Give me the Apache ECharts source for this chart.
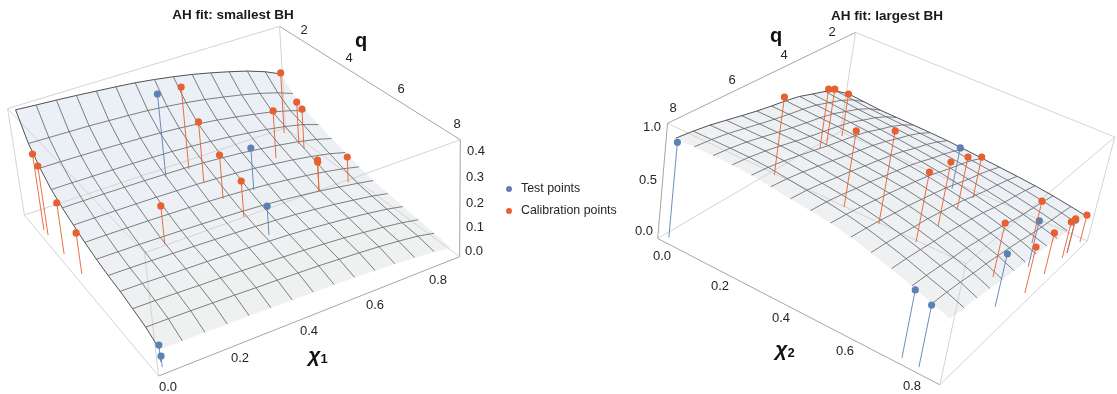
<!DOCTYPE html>
<html>
<head>
<meta charset="utf-8">
<style>html,body{margin:0;background:#fff}#main{width:1117px;height:394px}</style>
<script src="https://cdn.jsdelivr.net/npm/echarts@6/dist/echarts.min.js"></script>
</head>
<body>
<div id="main"></div>
<script>
// surface nodes shared by both fits
var chiNodes = [0, 0.065, 0.13, 0.195, 0.26, 0.325, 0.39, 0.455, 0.52, 0.585, 0.65, 0.715, 0.78, 0.845, 0.9];
var qNodes = [2, 2.5, 3, 3.5, 4, 4.5, 5, 5.5, 6, 6.5, 7, 7.5, 8];

// AH fit values in thousandths, one row per q node, one column per chi node
var surfaceSmallest = [
  [467, 461, 456, 450, 443, 436, 428, 417, 404, 389, 371, 351, 329, 301, 270],
  [365, 363, 361, 359, 355, 351, 346, 338, 328, 316, 301, 285, 266, 243, 218],
  [304, 303, 301, 299, 296, 293, 289, 283, 275, 265, 252, 238, 222, 201, 178],
  [258, 258, 257, 256, 255, 253, 251, 246, 240, 232, 222, 211, 197, 179, 156],
  [228, 228, 228, 227, 226, 224, 222, 218, 212, 205, 195, 184, 171, 154, 135],
  [204, 204, 204, 203, 202, 200, 198, 194, 189, 182, 172, 162, 149, 133, 115],
  [182, 182, 181, 180, 178, 176, 173, 169, 164, 157, 148, 138, 126, 111, 95],
  [164, 163, 162, 160, 158, 155, 152, 148, 143, 136, 127, 117, 105, 92, 80],
  [150, 149, 147, 145, 143, 140, 137, 133, 129, 123, 115, 106, 95, 83, 69],
  [140, 139, 136, 134, 132, 129, 126, 122, 118, 112, 104, 96, 86, 74, 60],
  [126, 125, 123, 120, 118, 115, 112, 108, 104, 99, 93, 85, 76, 65, 52],
  [110, 109, 107, 105, 103, 100, 98, 95, 92, 87, 82, 76, 68, 58, 44],
  [82, 80, 79, 78, 77, 75, 73, 71, 69, 66, 62, 57, 51, 44, 35]
];
var surfaceLargest = [
  [470, 456, 441, 438, 434, 430, 423, 410, 396, 382, 367, 350, 327, 298, 270],
  [570, 553, 535, 526, 517, 506, 494, 478, 459, 438, 416, 392, 362, 328, 292],
  [644, 625, 607, 595, 582, 567, 551, 532, 511, 485, 458, 428, 392, 353, 314],
  [691, 677, 662, 649, 633, 615, 596, 576, 553, 524, 494, 460, 420, 378, 337],
  [741, 729, 717, 705, 690, 670, 650, 628, 604, 572, 538, 500, 456, 407, 363],
  [772, 763, 754, 745, 732, 714, 695, 675, 652, 620, 586, 545, 497, 444, 388],
  [796, 790, 784, 777, 766, 750, 732, 713, 690, 659, 624, 582, 532, 476, 414],
  [823, 820, 815, 810, 800, 784, 766, 748, 726, 694, 658, 614, 563, 505, 439],
  [856, 854, 851, 847, 838, 822, 804, 785, 762, 730, 693, 648, 595, 533, 464],
  [891, 890, 889, 886, 876, 857, 835, 815, 792, 757, 716, 668, 612, 553, 490],
  [925, 925, 925, 922, 912, 892, 870, 850, 826, 790, 746, 696, 638, 580, 515],
  [949, 951, 952, 950, 940, 920, 898, 878, 852, 815, 770, 718, 658, 600, 540],
  [966, 968, 970, 968, 958, 938, 915, 895, 872, 835, 787, 735, 675, 615, 559]
];

// points as [chi, q, value]
var testSmallest = [
  [0.445, 2.23, 0.375], [0.632, 3.79, 0.188], [0.541, 5.44, 0.125],
  [0.012, 7.80, 0.068], [0.006, 7.94, 0.044]
];
var calibrationSmallest = [
  [0.896, 2.07, 0.281], [0.528, 2.22, 0.372], [0.526, 2.93, 0.275],
  [0.789, 2.92, 0.216], [0.896, 2.69, 0.195], [0.895, 2.91, 0.181],
  [0.529, 3.73, 0.196], [0.530, 4.58, 0.158], [0.791, 4.61, 0.138],
  [0.791, 4.61, 0.129], [0.892, 4.66, 0.112], [0.000, 2.66, 0.334],
  [0.000, 2.88, 0.302], [0.000, 3.71, 0.221], [0.002, 4.55, 0.175],
  [0.268, 4.54, 0.165]
];
var testLargest = [
  [0.000, 7.94, 0.918], [0.451, 2.18, 0.452], [0.788, 7.95, 0.638],
  [0.841, 7.96, 0.582], [0.865, 5.40, 0.530], [0.844, 3.70, 0.480],
  [0.899, 2.63, 0.353]
];
var calibrationLargest = [
  [0.000, 4.57, 0.821], [0.000, 2.87, 0.650], [0.000, 2.61, 0.610],
  [0.004, 2.03, 0.474], [0.264, 4.54, 0.791], [0.394, 4.56, 0.954],
  [0.529, 4.58, 0.720], [0.532, 3.72, 0.672], [0.528, 2.87, 0.570],
  [0.529, 2.17, 0.450], [0.793, 2.84, 0.448], [0.790, 4.54, 0.552],
  [0.898, 4.57, 0.469], [0.897, 3.69, 0.428], [0.900, 2.88, 0.383],
  [0.899, 2.63, 0.364], [0.903, 2.04, 0.294]
];

var chiTicks = ['0.0', '0.2', '0.4', '0.6', '0.8'];
var qTicks = ['2', '4', '6', '8'];
var zTicksSmallest = ['0.0', '0.1', '0.2', '0.3', '0.4'];
var zTicksLargest = ['0.0', '0.5', '1.0'];

// camera of each panel is fixed by where the 8 box corners land: [chi, q, z, x, y], chi q z in 0..1
var panels = [{
  chiRange: [-0.018, 0.918], qRange: [1.88, 8.12], zRange: [0, 0.47],
  surface: surfaceSmallest, test: testSmallest, calibration: calibrationSmallest,
  corners: [[0, 0, 1, 7, 108], [1, 0, 1, 280, 28], [1, 1, 1, 461, 140], [0, 1, 1, 144, 251],
    [0, 0, 0, 25, 217], [1, 0, 0, 285, 125], [1, 1, 0, 459, 258], [0, 1, 0, 159, 376]],
  // box edges which carry the axis labels are drawn darker
  axisEdges: [[[1, 1, 1], [1, 0, 1]], [[0, 1, 0], [1, 1, 0]], [[1, 1, 0], [1, 1, 1]]],
  surfaceColors: ['#ebeff6', '#eff1f1'],
  title: 'AH fit: smallest BH', titleAt: [233, 8],
  chiLabelAt: [[168, 387], [240, 358], [309, 331], [375, 305], [438, 280]],
  qLabelAt: [[304, 30], [349, 58], [401, 89], [457, 124]],
  zTicks: zTicksSmallest,
  zLabelAt: [[474, 251], [475, 227], [475, 203], [475, 177], [476, 151]],
  qNameAt: [361, 41], chiNameAt: [318, 356], chiIndex: '1'
}, {
  chiRange: [-0.018, 0.918], qRange: [1.88, 8.12], zRange: [0, 1.1],
  surface: surfaceLargest, test: testLargest, calibration: calibrationLargest,
  corners: [[0, 1, 1, 667, 124], [0, 0, 1, 855, 33], [1, 0, 1, 1115, 137], [1, 1, 1, 967, 262],
    [0, 1, 0, 658, 239], [0, 0, 0, 841, 130], [1, 0, 0, 1087, 242], [1, 1, 0, 939, 385]],
  axisEdges: [[[0, 1, 1], [0, 0, 1]], [[0, 1, 0], [1, 1, 0]], [[0, 1, 0], [0, 1, 1]]],
  surfaceColors: ['#ecf0f5', '#eef0f2'],
  title: 'AH fit: largest BH', titleAt: [887, 9],
  chiLabelAt: [[662, 256], [720, 286], [781, 318], [845, 351], [912, 386]],
  qLabelAt: [[832, 32], [784, 55], [732, 80], [673, 108]],
  zTicks: zTicksLargest,
  zLabelAt: [[644, 231], [648, 180], [652, 127]],
  qNameAt: [776, 36], chiNameAt: [785, 350], chiIndex: '2'
}];

var COLOR_TEST = '#5e81b5';
var COLOR_CAL = '#e8602f';
var FONT = '"Liberation Sans", Arial, sans-serif';

function solve(A, b) {
  var n = b.length, i, j, k;
  A = A.map(function (r, idx) { return r.concat([b[idx]]); });
  for (i = 0; i < n; i++) {
    var m = i;
    for (k = i + 1; k < n; k++) if (Math.abs(A[k][i]) > Math.abs(A[m][i])) m = k;
    var t = A[i]; A[i] = A[m]; A[m] = t;
    for (k = i + 1; k < n; k++) {
      var f = A[k][i] / A[i][i];
      for (j = i; j <= n; j++) A[k][j] -= f * A[i][j];
    }
  }
  var x = [];
  for (i = n - 1; i >= 0; i--) {
    var s = A[i][n];
    for (j = i + 1; j < n; j++) s -= A[i][j] * x[j];
    x[i] = s / A[i][i];
  }
  return x;
}

// least squares perspective matrix from the box corners
function cameraFrom(corners) {
  var M = [], r = [];
  corners.forEach(function (p) {
    var u = p[0], v = p[1], w = p[2], x = p[3] / 1000, y = p[4] / 1000;
    M.push([u, v, w, 1, 0, 0, 0, 0, -x * u, -x * v, -x * w]); r.push(x);
    M.push([0, 0, 0, 0, u, v, w, 1, -y * u, -y * v, -y * w]); r.push(y);
  });
  var N = [], g = [];
  for (var i = 0; i < 11; i++) {
    N.push([]); g.push(0);
    for (var j = 0; j < 11; j++) {
      var s = 0;
      for (var k = 0; k < M.length; k++) s += M[k][i] * M[k][j];
      N[i].push(s);
    }
    for (k = 0; k < M.length; k++) g[i] += M[k][i] * r[k];
  }
  return solve(N, g);
}

panels.forEach(function (p) { p.camera = cameraFrom(p.corners); });

function projectBox(p, u, v, w) {
  var c = p.camera, d = c[8] * u + c[9] * v + c[10] * w + 1;
  return [1000 * (c[0] * u + c[1] * v + c[2] * w + c[3]) / d, 1000 * (c[4] * u + c[5] * v + c[6] * w + c[7]) / d];
}

function project(p, chi, q, z) {
  return projectBox(p,
    (chi - p.chiRange[0]) / (p.chiRange[1] - p.chiRange[0]),
    (q - p.qRange[0]) / (p.qRange[1] - p.qRange[0]),
    (z - p.zRange[0]) / (p.zRange[1] - p.zRange[0]));
}

function nodePixel(api, p, i, j) {
  return api.coord(project(p, chiNodes[i], qNodes[j], p.surface[j][i] / 1000));
}

// hidden axes span the page, the projected points are plotted on them
function baseSeries(data, renderItem, z) {
  return {
    type: 'custom', coordinateSystem: 'cartesian2d', silent: true, clip: false,
    encode: { x: 0, y: 1 }, z: z, data: data, renderItem: renderItem, animation: false
  };
}

function surfaceSeries(p) {
  var data = [];
  for (var j = 0; j < qNodes.length - 1; j++) {
    for (var i = 0; i < chiNodes.length - 1; i++) data.push([i, j]);
  }
  return baseSeries(data, function (params, api) {
    var i = api.value(0), j = api.value(1);
    var fill = echarts.color.lerp(j / (qNodes.length - 2), p.surfaceColors);
    return {
      type: 'polygon',
      shape: { points: [nodePixel(api, p, i, j), nodePixel(api, p, i + 1, j), nodePixel(api, p, i + 1, j + 1), nodePixel(api, p, i, j + 1)] },
      style: { fill: fill, stroke: fill, lineWidth: 0.6 }
    };
  }, 1);
}

function boxSeries(p) {
  var edges = [
    [[0, 0, 0], [1, 0, 0]], [[1, 0, 0], [1, 1, 0]], [[0, 1, 0], [0, 0, 0]],
    [[0, 0, 1], [1, 0, 1]], [[1, 0, 1], [1, 1, 1]], [[1, 1, 1], [0, 1, 1]], [[0, 1, 1], [0, 0, 1]],
    [[0, 0, 0], [0, 0, 1]], [[1, 0, 0], [1, 0, 1]], [[0, 1, 0], [0, 1, 1]], [[1, 1, 0], [1, 1, 1]],
    [[0, 1, 0], [1, 1, 0]]
  ];
  var data = edges.map(function (e, idx) { return [idx, 0]; });
  return baseSeries(data, function (params, api) {
    var e = edges[api.value(0)];
    var axis = p.axisEdges.some(function (a) {
      return (String(a[0]) === String(e[0]) && String(a[1]) === String(e[1])) || (String(a[0]) === String(e[1]) && String(a[1]) === String(e[0]));
    });
    var a = api.coord(projectBox(p, e[0][0], e[0][1], e[0][2]));
    var b = api.coord(projectBox(p, e[1][0], e[1][1], e[1][2]));
    return {
      type: 'line',
      shape: { x1: a[0], y1: a[1], x2: b[0], y2: b[1] },
      style: { stroke: axis ? '#a6a6a6' : '#d4d4d4', lineWidth: 1 }
    };
  }, 2);
}

function meshSeries(p) {
  var data = [], i, j;
  // the last node of each direction is only the surface rim, it has no mesh line
  for (j = 0; j < qNodes.length - 1; j++) data.push([0, j]);
  for (i = 0; i < chiNodes.length - 1; i++) data.push([1, i]);
  return baseSeries(data, function (params, api) {
    var alongChi = api.value(0) === 0, k = api.value(1), pts = [], n;
    if (alongChi) {
      for (n = 0; n < chiNodes.length; n++) pts.push(nodePixel(api, p, n, k));
    } else {
      for (n = 0; n < qNodes.length; n++) pts.push(nodePixel(api, p, k, n));
    }
    return {
      type: 'polyline',
      shape: { points: pts },
      style: { fill: null, stroke: k === 0 ? '#404040' : '#5f5f5f', lineWidth: k === 0 ? 0.9 : 0.8 }
    };
  }, 3);
}

function pointSeries(p, name, data, color) {
  var s = baseSeries(data, function (params, api) {
    var chi = api.value(0), q = api.value(1), top = api.coord(project(p, chi, q, api.value(2)));
    var foot = api.coord(project(p, chi, q, 0));
    return {
      type: 'group',
      children: [{
        type: 'line',
        shape: { x1: top[0], y1: top[1], x2: foot[0], y2: foot[1] },
        style: { stroke: color, lineWidth: 1, opacity: 0.9 }
      }, {
        type: 'circle',
        shape: { cx: top[0], cy: top[1], r: 3.6 },
        style: { fill: color }
      }]
    };
  }, name === 'Test points' ? 4 : 5);
  s.name = name;
  s.itemStyle = { color: color };
  return s;
}

function tickText(text, at) {
  return {
    type: 'text', x: at[0], y: at[1], silent: true,
    style: { text: text, fontFamily: FONT, fontSize: 13, fill: '#262626', align: 'center', verticalAlign: 'middle' }
  };
}

var series = [], graphics = [], titles = [];
panels.forEach(function (p) {
  series.push(surfaceSeries(p), boxSeries(p), meshSeries(p));
  series.push(pointSeries(p, 'Test points', p.test, COLOR_TEST));
  series.push(pointSeries(p, 'Calibration points', p.calibration, COLOR_CAL));
  titles.push({
    text: p.title, left: p.titleAt[0], top: p.titleAt[1], textAlign: 'center', padding: 0,
    textStyle: { fontFamily: FONT, fontSize: 13.5, fontWeight: 'bold', color: '#1a1a1a' }
  });
  chiTicks.forEach(function (t, i) { graphics.push(tickText(t, p.chiLabelAt[i])); });
  qTicks.forEach(function (t, i) { graphics.push(tickText(t, p.qLabelAt[i])); });
  p.zTicks.forEach(function (t, i) { graphics.push(tickText(t, p.zLabelAt[i])); });
  graphics.push({
    type: 'text', x: p.qNameAt[0], y: p.qNameAt[1], silent: true,
    style: { text: 'q', fontFamily: FONT, fontSize: 20, fontWeight: 'bold', fill: '#111', align: 'center', verticalAlign: 'middle' }
  });
  graphics.push({
    type: 'text', x: p.chiNameAt[0], y: p.chiNameAt[1], silent: true,
    style: {
      text: '{a|χ}{b|' + p.chiIndex + '}', align: 'center', verticalAlign: 'middle',
      rich: {
        a: { fontFamily: FONT, fontSize: 21, fontWeight: 'bold', fontStyle: 'italic', fill: '#111' },
        b: { fontFamily: FONT, fontSize: 13, fontWeight: 'bold', fill: '#111', padding: [6, 0, 0, 0] }
      }
    }
  });
});

var chart = echarts.init(document.getElementById('main'), null, { renderer: 'canvas' });
chart.setOption({
  animation: false,
  backgroundColor: '#fff',
  title: titles,
  grid: { left: 0, right: 0, top: 0, bottom: 0 },
  xAxis: { type: 'value', min: 0, max: 1117, show: false },
  yAxis: { type: 'value', min: 0, max: 394, inverse: true, show: false },
  legend: {
    orient: 'vertical', left: 501, top: 178, itemWidth: 6, itemHeight: 6, itemGap: 10,
    selectedMode: false, icon: 'circle',
    textStyle: { fontFamily: FONT, fontSize: 12.4, color: '#262626', padding: [0, 0, 0, 4] },
    data: ['Test points', 'Calibration points']
  },
  graphic: graphics,
  series: series
});
</script>
</body>
</html>
